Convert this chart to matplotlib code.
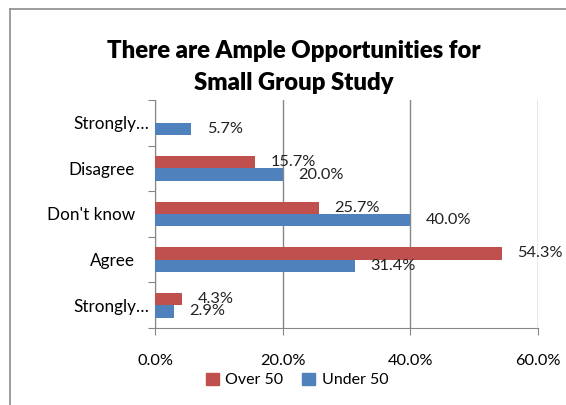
import numpy as np
import matplotlib
matplotlib.use("Agg")
import matplotlib.pyplot as plt
from matplotlib.lines import Line2D
from matplotlib.patches import Patch
from matplotlib.transforms import ScaledTranslation

# Data (bottom to top)
categories = ["Strongly\u2026", "Agree", "Don't know", "Disagree", "Strongly\u2026"]
over_50 = [4.3, 54.3, 25.7, 15.7, np.nan]
under_50 = [2.9, 31.4, 40.0, 20.0, 5.7]
x_ticks = [0, 20, 40, 60]
title = "There are Ample Opportunities for\nSmall Group Study"

red = "#C0504D"
blue = "#4F81BD"
grid_col = "#868686"

plt.rcParams['font.family'] = ['Lato', 'DejaVu Sans']

fig = plt.figure(figsize=(5.66, 4.05), dpi=100)
ax = fig.add_axes([155 / 566, 77 / 405, 383 / 566, 228 / 405])

y = np.arange(len(categories))
h = 0.27
ax.barh(y + h / 2, over_50, height=h, color=red, zorder=3)
ax.barh(y - h / 2, under_50, height=h, color=blue, zorder=3)

# data labels at the bar ends
for yi, v in zip(y, over_50):
    if not np.isnan(v):
        ax.annotate(f"{v:.1f}%", (v, yi + h / 2), xytext=(11, 0), textcoords="offset points",
                    va="center", ha="left", fontsize=11.8, color="#222222", zorder=4)
for yi, v in zip(y, under_50):
    ax.annotate(f"{v:.1f}%", (v, yi - h / 2), xytext=(11, 0), textcoords="offset points",
                va="center", ha="left", fontsize=11.8, color="#222222", zorder=4)

ax.set_xlim(0, 60)
ax.set_ylim(-0.5, len(categories) - 0.5)
ax.set_xticks(x_ticks)
ax.set_xticklabels([f"{t:.1f}%" for t in x_ticks], fontsize=11.8)
ax.tick_params(axis='x', direction='out', length=5, color=grid_col, pad=14)

# category labels between the boundary ticks
ax.set_yticks(np.arange(len(categories) + 1) - 0.5)
ax.set_yticklabels([])
ax.set_yticks(y, minor=True)
ax.set_yticklabels(categories, minor=True, fontsize=12.3)
ax.tick_params(axis='y', which='major', direction='out', length=5, color=grid_col)
ax.tick_params(axis='y', which='minor', length=0, pad=14.4)
# truncated labels sit closer to the axis, as in the original
for lab in ax.get_yticklabels(minor=True):
    if lab.get_text().endswith("\u2026"):
        lab.set_transform(lab.get_transform() + ScaledTranslation(0.14, 0, fig.dpi_scale_trans))

ax.grid(axis='x', color=grid_col, linewidth=1, zorder=0)
for side in ['top', 'right']:
    ax.spines[side].set_visible(False)
for side in ['left', 'bottom']:
    ax.spines[side].set_color(grid_col)

fig.text(294 / 566, 1 - 67 / 405, title, ha='center', va='center', fontsize=17.2, fontweight='heavy',
         linespacing=1.6)

handles = [Patch(color=red, label='Over 50'), Patch(color=blue, label='Under 50')]
fig.legend(handles=handles, loc='center', bbox_to_anchor=(297 / 566, 1 - 380 / 405), ncol=2,
           frameon=False, fontsize=11.5, handlelength=0.8, handleheight=0.8,
           handletextpad=0.4, columnspacing=1.2)

# outer chart frame (clipped by image edges on right and bottom)
fig.add_artist(Line2D([10 / 566, 1.0], [1 - 9 / 405] * 2, color='#8c8c8c', lw=1.2))
fig.add_artist(Line2D([10 / 566] * 2, [0, 1 - 9 / 405], color='#8c8c8c', lw=1.2))

fig.savefig("out.png", dpi=100, facecolor='white')
